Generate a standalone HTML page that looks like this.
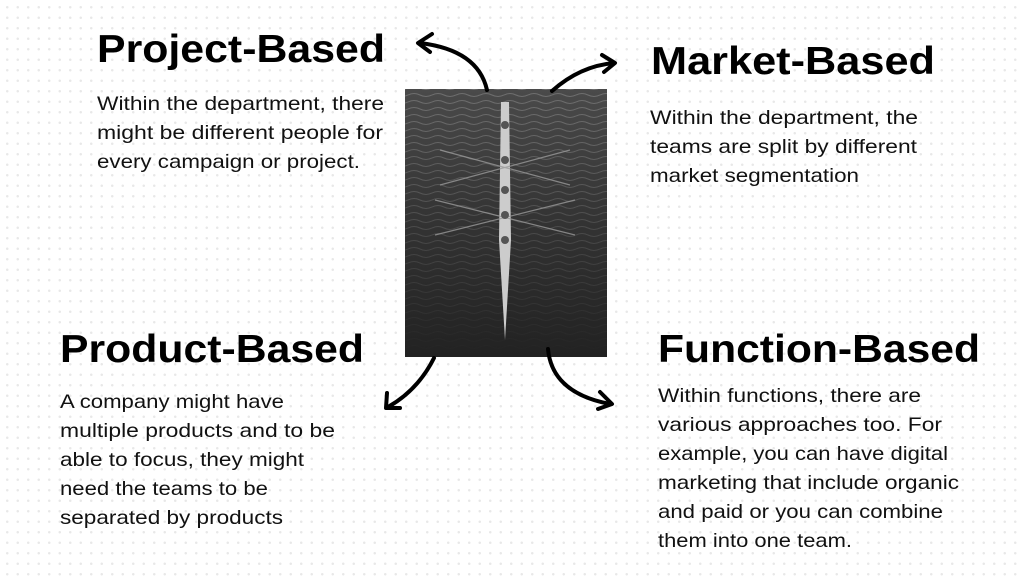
<!DOCTYPE html>
<html><head><meta charset="utf-8"><style>
html,body{margin:0;padding:0;background:#fff;}
body{width:1024px;height:583px;overflow:hidden;
background-image:radial-gradient(circle,#e8e8e8 1px,transparent 1.5px);background-size:10.5px 10.5px;background-position:2px 2px;}
svg{position:absolute;left:0;top:0}
.h{font-family:"Liberation Sans",sans-serif;font-weight:bold;font-size:39px;fill:#000}
.b{font-family:"Liberation Sans",sans-serif;font-size:19.5px;fill:#111}
</style></head><body>
<svg width="1024" height="583" viewBox="0 0 1024 583">
<defs>
<linearGradient id="w" x1="0" y1="0" x2="0" y2="1">
<stop offset="0" stop-color="#4a4a4a"/><stop offset="0.5" stop-color="#333"/><stop offset="1" stop-color="#222"/>
</linearGradient>
<pattern id="wave" width="24" height="7" patternUnits="userSpaceOnUse">
<path d="M0 4 Q6 1 12 4 T24 4" stroke="#888" stroke-width="1" fill="none" opacity="0.6"/>
</pattern>
<linearGradient id="fade" x1="0" y1="0" x2="0" y2="1"><stop offset="0" stop-color="#fff" stop-opacity="1"/><stop offset="1" stop-color="#fff" stop-opacity="0"/></linearGradient>
<mask id="m"><rect x="405" y="89" width="202" height="268" fill="url(#fade)"/></mask>
</defs>
<rect x="405" y="89" width="202" height="268" fill="url(#w)"/>
<rect x="405" y="89" width="202" height="268" fill="url(#wave)" mask="url(#m)"/>
<path d="M501 102 L509 102 L511 240 L505 340 L499 240 Z" fill="#ccc"/>
<g stroke="#999" stroke-width="1.2" opacity="0.8">
<line x1="440" y1="150" x2="570" y2="185"/><line x1="440" y1="185" x2="570" y2="150"/>
<line x1="435" y1="200" x2="575" y2="235"/><line x1="435" y1="235" x2="575" y2="200"/>
</g>
<g fill="#555"><circle cx="505" cy="125" r="4"/><circle cx="505" cy="160" r="4"/><circle cx="505" cy="190" r="4"/><circle cx="505" cy="215" r="4"/><circle cx="505" cy="240" r="4"/></g>
<g stroke="#000" stroke-width="4" fill="none" stroke-linecap="round" stroke-linejoin="round">
<path d="M487 90 Q478 50 420 43"/><path d="M432 34 L418 43 L430 52"/>
<path d="M552 91 Q580 66 614 63"/><path d="M602 55 L615 63 L604 72"/>
<path d="M434 358 Q418 390 388 407"/><path d="M387 393 L386 408 L400 408"/>
<path d="M548 349 Q552 393 610 404"/><path d="M600 392 L612 404 L598 409"/>
</g>
<text class="h" x="97" y="62" textLength="288" lengthAdjust="spacingAndGlyphs">Project-Based</text>
<text class="b" x="97" y="110" textLength="287" lengthAdjust="spacingAndGlyphs">Within the department, there</text>
<text class="b" x="97" y="139" textLength="286" lengthAdjust="spacingAndGlyphs">might be different people for</text>
<text class="b" x="97" y="168" textLength="263" lengthAdjust="spacingAndGlyphs">every campaign or project.</text>
<text class="h" x="651" y="74" textLength="284" lengthAdjust="spacingAndGlyphs">Market-Based</text>
<text class="b" x="650" y="124" textLength="268" lengthAdjust="spacingAndGlyphs">Within the department, the</text>
<text class="b" x="650" y="153" textLength="267" lengthAdjust="spacingAndGlyphs">teams are split by different</text>
<text class="b" x="650" y="182" textLength="209" lengthAdjust="spacingAndGlyphs">market segmentation</text>
<text class="h" x="60" y="362" textLength="304" lengthAdjust="spacingAndGlyphs">Product-Based</text>
<text class="b" x="60" y="408" textLength="224" lengthAdjust="spacingAndGlyphs">A company might have</text>
<text class="b" x="60" y="437" textLength="275" lengthAdjust="spacingAndGlyphs">multiple products and to be</text>
<text class="b" x="60" y="466" textLength="244" lengthAdjust="spacingAndGlyphs">able to focus, they might</text>
<text class="b" x="60" y="495" textLength="208" lengthAdjust="spacingAndGlyphs">need the teams to be</text>
<text class="b" x="60" y="524" textLength="223" lengthAdjust="spacingAndGlyphs">separated by products</text>
<text class="h" x="658" y="362" textLength="322" lengthAdjust="spacingAndGlyphs">Function-Based</text>
<text class="b" x="658" y="402" textLength="263" lengthAdjust="spacingAndGlyphs">Within functions, there are</text>
<text class="b" x="658" y="431" textLength="284" lengthAdjust="spacingAndGlyphs">various approaches too. For</text>
<text class="b" x="658" y="460" textLength="290" lengthAdjust="spacingAndGlyphs">example, you can have digital</text>
<text class="b" x="658" y="489" textLength="301" lengthAdjust="spacingAndGlyphs">marketing that include organic</text>
<text class="b" x="658" y="518" textLength="285" lengthAdjust="spacingAndGlyphs">and paid or you can combine</text>
<text class="b" x="658" y="547" textLength="194" lengthAdjust="spacingAndGlyphs">them into one team.</text>
</svg>
</body></html>
